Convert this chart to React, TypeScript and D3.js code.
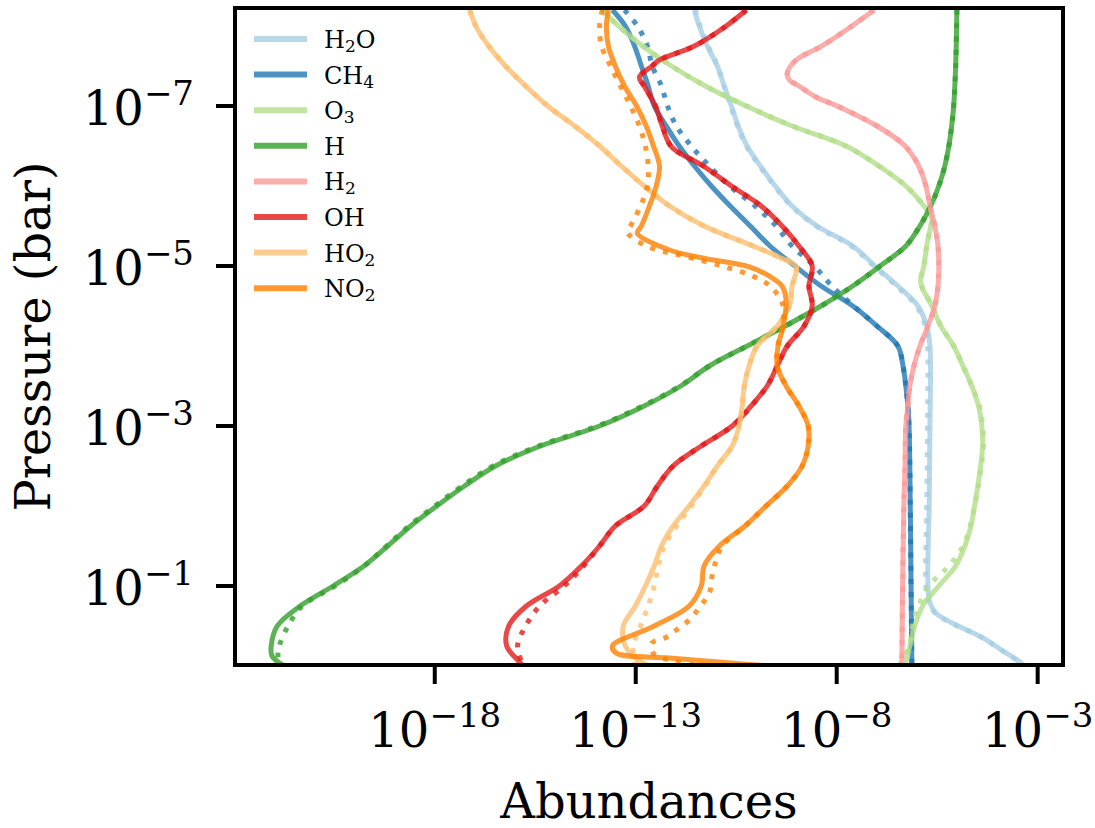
import React from 'react';
import * as d3 from 'd3';

// ---------- data (log10 pressure [bar], log10 abundance) ----------
const speciesNames = ['H2O', 'CH4', 'O3', 'H', 'H2', 'OH', 'HO2', 'NO2'];
const speciesColors = ['#a6cee3', '#1f78b4', '#b2df8a', '#33a02c', '#fb9a99', '#e31a1c', '#fdbf6f', '#ff7f00'];
// legend label parts: [main, subscript, tail]
const legendParts: [string, string, string][] = [
  ['H', '2', 'O'], ['CH', '4', ''], ['O', '3', ''], ['H', '', ''],
  ['H', '2', ''], ['OH', '', ''], ['HO', '2', ''], ['NO', '2', ''],
];
const xTickExps = [-18, -13, -8, -3];
const yTickExps = [-7, -5, -3, -1];

type Pt = [number, number];

const h2oSolid: Pt[] = [[-8.2,-11.54],[-8.0,-11.42],[-7.75,-11.22],[-7.5,-10.97],[-7.25,-10.80],[-7.0,-10.62],[-6.75,-10.45],[-6.5,-10.23],[-6.25,-9.90],[-6.0,-9.53],[-5.75,-9.11],[-5.5,-8.49],[-5.25,-7.60],[-5.0,-7.05],[-4.75,-6.48],[-4.5,-5.98],[-4.25,-5.76],[-4.0,-5.68],[-3.0,-5.68],[-2.0,-5.70],[-1.0,-5.73],[-0.79,-5.68],[-0.66,-5.53],[-0.54,-5.14],[-0.36,-4.39],[-0.2,-3.90],[-0.04,-3.42],[0,-3.35]];
const h2oDotted: Pt[] = [[-8.2,-11.52],[-8.0,-11.40],[-7.75,-11.20],[-7.5,-10.97],[-7.25,-10.80],[-7.0,-10.64],[-6.75,-10.47],[-6.5,-10.25],[-6.25,-9.92],[-6.0,-9.55],[-5.75,-9.13],[-5.5,-8.52],[-5.25,-7.64],[-5.0,-7.08],[-4.75,-6.52],[-4.5,-6.02],[-4.25,-5.80],[-4.0,-5.74],[-3.0,-5.74],[-2.0,-5.76],[-1.0,-5.78],[-0.79,-5.72],[-0.66,-5.55],[-0.54,-5.16],[-0.36,-4.40],[-0.2,-3.91],[-0.04,-3.43],[0,-3.36]];

const ch4Solid: Pt[] = [[-8.2,-13.58],[-8.0,-13.26],[-7.75,-13.03],[-7.5,-12.86],[-7.25,-12.69],[-7.0,-12.54],[-6.75,-12.24],[-6.5,-11.92],[-6.25,-11.54],[-6.0,-11.12],[-5.75,-10.65],[-5.5,-10.15],[-5.25,-9.66],[-5.0,-9.04],[-4.75,-8.39],[-4.5,-7.60],[-4.25,-7.0],[-4.0,-6.48],[-3.75,-6.35],[-3.5,-6.28],[-3.25,-6.23],[-3.0,-6.20],[-2.0,-6.17],[-1.0,-6.15],[0,-6.13]];
const ch4Dotted: Pt[] = [[-8.2,-13.28],[-8.0,-12.96],[-7.75,-12.71],[-7.5,-12.59],[-7.25,-12.36],[-7.0,-12.21],[-6.75,-11.99],[-6.5,-11.62],[-6.25,-11.17],[-6.0,-10.67],[-5.75,-10.03],[-5.5,-9.51],[-5.25,-9.11],[-5.0,-8.56],[-4.75,-8.12],[-4.5,-7.58],[-4.25,-7.0],[-4.0,-6.48],[-3.75,-6.35],[-3.5,-6.28],[-3.25,-6.23],[-3.0,-6.20],[-2.0,-6.17],[-1.0,-6.15],[0,-6.13]];

const o3Solid: Pt[] = [[-8.2,-13.83],[-8.0,-13.43],[-7.75,-12.83],[-7.5,-12.11],[-7.25,-11.27],[-7.0,-10.25],[-6.75,-9.11],[-6.5,-7.77],[-6.25,-6.95],[-6.0,-6.28],[-5.75,-5.83],[-5.59,-5.63],[-5.5,-5.66],[-5.25,-5.76],[-5.0,-5.83],[-4.79,-5.91],[-4.5,-5.63],[-4.25,-5.41],[-4.0,-5.09],[-3.75,-4.86],[-3.5,-4.64],[-3.25,-4.47],[-3.0,-4.39],[-2.75,-4.37],[-2.5,-4.42],[-2.25,-4.49],[-2.0,-4.57],[-1.75,-4.66],[-1.5,-4.81],[-1.25,-5.04],[-1.0,-5.46],[-0.75,-5.86],[-0.5,-6.06],[-0.25,-6.18],[0,-6.30]];
const o3Dotted: Pt[] = [[-8.2,-13.83],[-8.0,-13.43],[-7.75,-12.83],[-7.5,-12.11],[-7.25,-11.27],[-7.0,-10.25],[-6.75,-9.11],[-6.5,-7.77],[-6.25,-6.95],[-6.0,-6.28],[-5.75,-5.83],[-5.59,-5.63],[-5.5,-5.66],[-5.25,-5.76],[-5.0,-5.83],[-4.79,-5.91],[-4.5,-5.63],[-4.25,-5.41],[-4.0,-5.09],[-3.75,-4.86],[-3.5,-4.64],[-3.25,-4.45],[-3.0,-4.37],[-2.75,-4.35],[-2.5,-4.40],[-2.25,-4.48],[-2.0,-4.57],[-1.75,-4.68],[-1.5,-4.86],[-1.25,-5.21],[-1.0,-5.71],[-0.75,-5.96],[-0.5,-6.11],[-0.25,-6.20],[0,-6.45]];

const hSolid: Pt[] = [[-8.2,-5.01],[-7.5,-5.04],[-7.0,-5.09],[-6.75,-5.14],[-6.5,-5.21],[-6.25,-5.31],[-6.0,-5.46],[-5.75,-5.66],[-5.5,-5.93],[-5.25,-6.28],[-5.0,-6.92],[-4.75,-7.60],[-4.5,-8.39],[-4.25,-9.28],[-4.0,-10.23],[-3.75,-11.17],[-3.5,-11.88],[-3.25,-12.79],[-3.0,-13.90],[-2.75,-15.37],[-2.5,-16.49],[-2.25,-17.26],[-2.0,-17.95],[-1.75,-18.60],[-1.5,-19.17],[-1.25,-19.76],[-1.0,-20.53],[-0.75,-21.35],[-0.5,-21.92],[-0.25,-22.07],[-0.125,-22.05],[0,-21.75]];
const hDotted: Pt[] = [[-8.2,-5.01],[-7.5,-5.04],[-7.0,-5.09],[-6.75,-5.14],[-6.5,-5.21],[-6.25,-5.31],[-6.0,-5.46],[-5.75,-5.66],[-5.5,-5.93],[-5.25,-6.28],[-5.0,-6.92],[-4.75,-7.60],[-4.5,-8.39],[-4.25,-9.28],[-4.0,-10.23],[-3.75,-11.17],[-3.5,-11.90],[-3.25,-12.83],[-3.0,-13.95],[-2.75,-15.42],[-2.5,-16.55],[-2.25,-17.32],[-2.0,-18.0],[-1.75,-18.64],[-1.5,-19.20],[-1.25,-19.76],[-1.0,-20.48],[-0.75,-21.30],[-0.5,-21.65],[-0.25,-21.87],[-0.125,-21.90],[0,-21.85]];

const h2Solid: Pt[] = [[-8.2,-7.07],[-8.0,-7.62],[-7.75,-8.37],[-7.575,-9.01],[-7.41,-9.23],[-7.325,-9.18],[-7.25,-8.94],[-7.11,-8.51],[-7.0,-7.99],[-6.75,-7.00],[-6.5,-6.30],[-6.25,-5.96],[-6.0,-5.78],[-5.75,-5.68],[-5.5,-5.56],[-5.25,-5.48],[-5.0,-5.46],[-4.75,-5.48],[-4.5,-5.56],[-4.25,-5.73],[-4.0,-5.93],[-3.75,-6.08],[-3.5,-6.18],[-3.25,-6.23],[-3.0,-6.28],[-2.5,-6.30],[-2.0,-6.33],[-1.0,-6.36],[0,-6.38]];
const h2Dotted: Pt[] = [[-8.2,-7.07],[-8.0,-7.62],[-7.75,-8.37],[-7.575,-9.01],[-7.41,-9.23],[-7.325,-9.18],[-7.25,-8.94],[-7.11,-8.51],[-7.0,-7.99],[-6.75,-7.00],[-6.5,-6.30],[-6.25,-5.96],[-6.0,-5.78],[-5.75,-5.68],[-5.5,-5.56],[-5.25,-5.48],[-5.0,-5.46],[-4.75,-5.48],[-4.5,-5.56],[-4.25,-5.73],[-4.0,-5.93],[-3.75,-6.08],[-3.5,-6.18],[-3.25,-6.23],[-3.0,-6.28],[-2.5,-6.30],[-2.0,-6.33],[-1.0,-6.36],[0,-6.38]];

const ohSolid: Pt[] = [[-8.2,-10.25],[-8.0,-10.75],[-7.75,-11.54],[-7.575,-12.41],[-7.5,-12.59],[-7.36,-12.91],[-7.25,-12.79],[-7.0,-12.51],[-6.75,-12.34],[-6.49,-12.11],[-6.25,-11.32],[-6.0,-10.62],[-5.75,-9.88],[-5.5,-9.36],[-5.25,-8.94],[-5.0,-8.61],[-4.75,-8.69],[-4.5,-8.61],[-4.25,-8.81],[-4.0,-9.23],[-3.75,-9.48],[-3.5,-9.73],[-3.25,-10.13],[-3.0,-10.60],[-2.75,-11.37],[-2.5,-12.07],[-2.25,-12.46],[-2.0,-12.79],[-1.75,-13.51],[-1.5,-13.90],[-1.25,-14.35],[-1.0,-14.90],[-0.75,-15.72],[-0.5,-16.16],[-0.25,-16.21],[-0.05,-15.89],[0,-15.8]];
const ohDotted: Pt[] = [[-8.2,-10.25],[-8.0,-10.75],[-7.75,-11.54],[-7.575,-12.41],[-7.5,-12.59],[-7.36,-12.91],[-7.25,-12.79],[-7.0,-12.51],[-6.75,-12.34],[-6.49,-12.11],[-6.25,-11.32],[-6.0,-10.62],[-5.75,-9.88],[-5.5,-9.36],[-5.25,-8.94],[-5.0,-8.61],[-4.75,-8.69],[-4.5,-8.61],[-4.25,-8.81],[-4.0,-9.23],[-3.75,-9.48],[-3.5,-9.73],[-3.25,-10.13],[-3.0,-10.60],[-2.75,-11.37],[-2.5,-12.07],[-2.25,-12.46],[-2.0,-12.79],[-1.75,-13.51],[-1.5,-13.90],[-1.25,-14.30],[-1.0,-14.78],[-0.75,-15.39],[-0.5,-15.74],[-0.25,-15.94],[-0.05,-15.84],[0,-15.8]];

const ho2Solid: Pt[] = [[-8.2,-17.13],[-8.0,-16.98],[-7.75,-16.66],[-7.5,-16.24],[-7.25,-15.74],[-7.0,-15.19],[-6.75,-14.52],[-6.5,-13.90],[-6.25,-13.36],[-6.0,-12.79],[-5.75,-12.16],[-5.5,-11.30],[-5.25,-10.08],[-5.11,-9.43],[-4.99,-9.01],[-4.75,-9.11],[-4.5,-9.18],[-4.25,-9.48],[-4.0,-9.98],[-3.75,-10.18],[-3.5,-10.30],[-3.25,-10.35],[-3.0,-10.43],[-2.75,-10.60],[-2.5,-10.97],[-2.25,-11.30],[-2.0,-11.67],[-1.75,-12.07],[-1.5,-12.36],[-1.25,-12.54],[-1.0,-12.76],[-0.75,-13.01],[-0.5,-13.31],[-0.25,-13.26],[-0.06,-12.9],[0,-12.6]];
const ho2Dotted: Pt[] = [[-8.2,-17.13],[-8.0,-16.98],[-7.75,-16.66],[-7.5,-16.24],[-7.25,-15.74],[-7.0,-15.19],[-6.75,-14.52],[-6.5,-13.90],[-6.25,-13.36],[-6.0,-12.79],[-5.75,-12.16],[-5.5,-11.30],[-5.25,-10.08],[-5.11,-9.43],[-4.99,-9.01],[-4.75,-9.11],[-4.5,-9.18],[-4.25,-9.48],[-4.0,-9.98],[-3.75,-10.18],[-3.5,-10.30],[-3.25,-10.35],[-3.0,-10.43],[-2.75,-10.60],[-2.5,-10.97],[-2.25,-11.28],[-2.0,-11.62],[-1.75,-11.98],[-1.5,-12.29],[-1.25,-12.44],[-1.0,-12.54],[-0.75,-12.69],[-0.5,-12.88],[-0.25,-13.06],[-0.02,-13.0],[0,-12.95]];

const no2Solid: Pt[] = [[-8.2,-13.68],[-8.0,-13.73],[-7.75,-13.68],[-7.5,-13.51],[-7.25,-13.28],[-7.0,-12.98],[-6.75,-12.74],[-6.5,-12.56],[-6.25,-12.41],[-6.0,-12.49],[-5.75,-12.66],[-5.5,-12.86],[-5.41,-12.96],[-5.2,-12.16],[-5.1,-11.34],[-4.99,-10.18],[-4.875,-9.68],[-4.75,-9.36],[-4.575,-9.26],[-4.25,-9.33],[-4.0,-9.46],[-3.75,-9.48],[-3.5,-9.26],[-3.25,-8.94],[-3.0,-8.71],[-2.75,-8.71],[-2.5,-8.86],[-2.25,-9.23],[-2.0,-9.76],[-1.75,-10.28],[-1.5,-10.92],[-1.25,-11.30],[-1.0,-11.37],[-0.75,-11.67],[-0.5,-12.54],[-0.25,-13.58],[-0.16,-13.48],[-0.1,-12.16],[-0.05,-10.92],[0,-9.68]];
const no2Dotted: Pt[] = [[-8.2,-13.83],[-8.0,-13.90],[-7.75,-13.85],[-7.5,-13.63],[-7.25,-13.38],[-7.0,-13.13],[-6.75,-12.91],[-6.5,-12.76],[-6.25,-12.69],[-6.0,-12.71],[-5.75,-12.88],[-5.5,-13.13],[-5.425,-13.21],[-5.25,-12.74],[-5.125,-11.82],[-5.0,-10.85],[-4.875,-10.10],[-4.75,-9.66],[-4.5,-9.33],[-4.25,-9.35],[-4.0,-9.46],[-3.75,-9.48],[-3.5,-9.26],[-3.25,-8.94],[-3.0,-8.71],[-2.75,-8.71],[-2.5,-8.86],[-2.25,-9.23],[-2.0,-9.76],[-1.75,-10.28],[-1.5,-10.85],[-1.325,-11.0],[-1.125,-11.10],[-0.91,-11.17],[-0.75,-11.39],[-0.575,-11.67],[-0.45,-11.99],[-0.36,-12.24],[-0.29,-12.59],[-0.2,-12.61],[-0.125,-12.49],[-0.075,-12.16],[0,-11.42]];

const solidSeries = [h2oSolid, ch4Solid, o3Solid, hSolid, h2Solid, ohSolid, ho2Solid, no2Solid];
const dottedSeries = [h2oDotted, ch4Dotted, o3Dotted, hDotted, h2Dotted, ohDotted, ho2Dotted, no2Dotted];

// ---------- layout ----------
const W = 1095;
const H = 828;
const left = 235, right = 1063, top = 8, bottom = 665;
const LW = 5;
const FONT = "'DejaVu Serif', serif";
const FS = 48;
const FS_SUP = 34;

export default function App() {
  const x = d3.scaleLog().domain([10 ** -22.97, 10 ** -2.37]).range([left, right]);
  const y = d3.scaleLog().domain([10 ** -8.225, 10 ** -0.0125]).range([top, bottom]);
  const line = d3.line<Pt>()
    .x(d => x(10 ** d[1]))
    .y(d => y(10 ** d[0]))
    .curve(d3.curveCatmullRom.alpha(0.5));

  return (
    <svg width={W} height={H} viewBox={`0 0 ${W} ${H}`}
      style={{ position: 'absolute', left: 0, top: 0, background: '#fff' }}
      fontFamily={FONT}>
      <defs>
        <clipPath id="plotclip">
          <rect x={left} y={top} width={right - left} height={bottom - top} />
        </clipPath>
      </defs>
      <rect x={0} y={0} width={W} height={H} fill="#fff" />
      <g clipPath="url(#plotclip)">
        {speciesNames.map((name, i) => (
          <g key={name}>
            <path d={line(solidSeries[i]) || ''} fill="none" stroke={speciesColors[i]}
              strokeOpacity={0.8} strokeWidth={LW} strokeLinejoin="round" />
            <path d={line(dottedSeries[i]) || ''} fill="none" stroke={speciesColors[i]}
              strokeOpacity={0.8} strokeWidth={LW} strokeDasharray={`${LW} ${LW * 1.65}`} />
          </g>
        ))}
      </g>
      {/* frame */}
      <rect x={left} y={top} width={right - left} height={bottom - top} fill="none" stroke="#000" strokeWidth={4} />
      {/* x ticks */}
      {xTickExps.map(e => {
        const px = x(10 ** e);
        return (
          <g key={'x' + e}>
            <line x1={px} x2={px} y1={bottom} y2={bottom + 19} stroke="#000" strokeWidth={4} />
            <text x={px} y={bottom + 82} textAnchor="middle" fontSize={FS} fill="#000">
              <tspan>10</tspan>
              <tspan fontSize={FS_SUP} dy={-20}>{'\u2212' + Math.abs(e)}</tspan>
            </text>
          </g>
        );
      })}
      {/* y ticks */}
      {yTickExps.map(e => {
        const py = y(10 ** e);
        return (
          <g key={'y' + e}>
            <line x1={left - 19} x2={left} y1={py} y2={py} stroke="#000" strokeWidth={4} />
            <text x={194} y={py + 19} textAnchor="end" fontSize={FS} fill="#000">
              <tspan>10</tspan>
              <tspan fontSize={FS_SUP} dy={-20}>{'\u2212' + Math.abs(e)}</tspan>
            </text>
          </g>
        );
      })}
      {/* axis labels */}
      <text x={(left + right) / 2} y={818} textAnchor="middle" fontSize={FS} fill="#000">Abundances</text>
      <text transform={`translate(50,${(top + bottom) / 2}) rotate(-90)`} textAnchor="middle" fontSize={FS} fill="#000">Pressure (bar)</text>
      {/* legend */}
      {speciesNames.map((name, i) => {
        const ly = 39 + i * 35.6;
        const [a, sub, tail] = legendParts[i];
        return (
          <g key={'lg' + name}>
            <line x1={254} x2={307} y1={ly} y2={ly} stroke={speciesColors[i]} strokeOpacity={0.8} strokeWidth={LW + 1} />
            <text x={324} y={ly + 9} fontSize={24} fill="#000">
              <tspan>{a}</tspan>
              {sub && <tspan fontSize={17} dy={4}>{sub}</tspan>}
              {tail && <tspan dy={-4}>{tail}</tspan>}
            </text>
          </g>
        );
      })}
    </svg>
  );
}
